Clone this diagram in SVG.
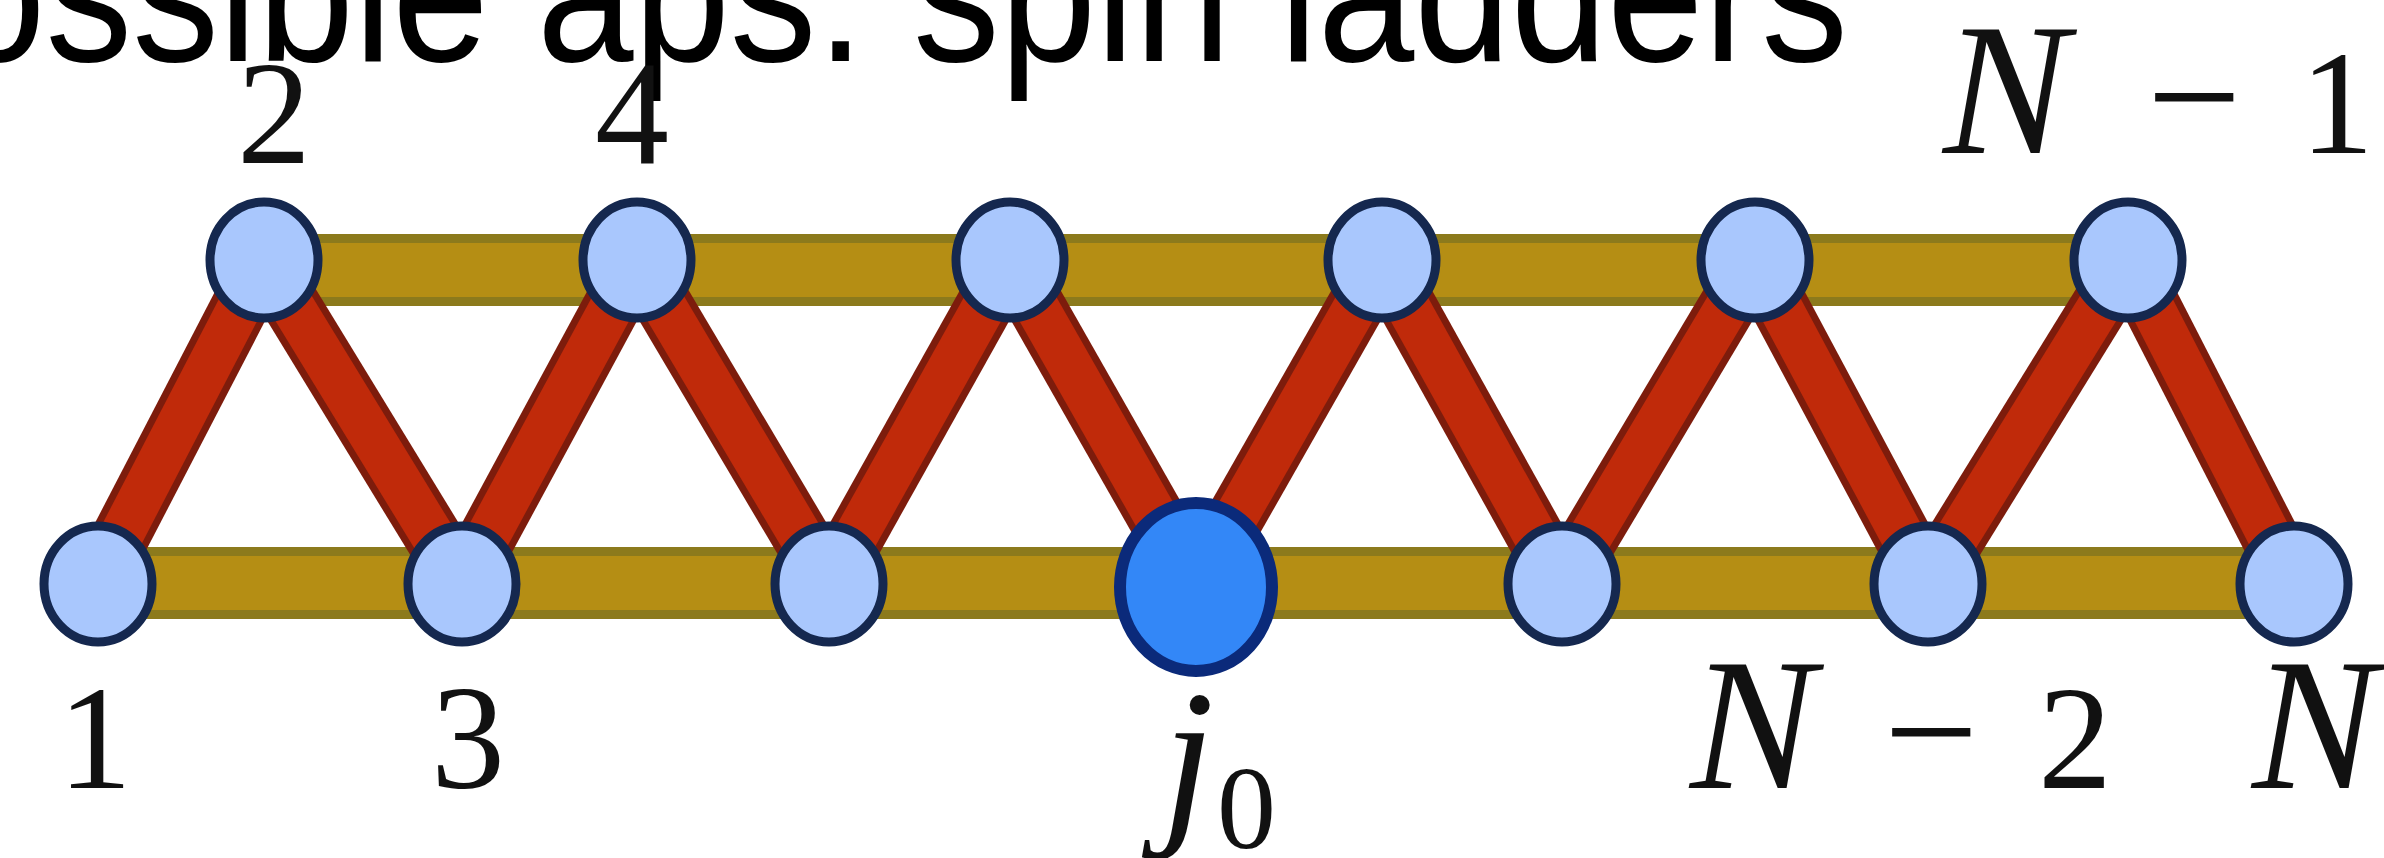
<svg xmlns="http://www.w3.org/2000/svg" width="2384" height="858" viewBox="0 0 2384 858">
  <style>
    .bar-o { stroke: #8c7a1c; stroke-width: 72; fill: none; }
    .bar-i { stroke: #b58e14; stroke-width: 54; fill: none; }
    .lnk-o { stroke: #7d1c0c; stroke-width: 58; stroke-linecap: butt; fill: none; }
    .lnk-i { stroke: #c02a0a; stroke-width: 44; stroke-linecap: butt; fill: none; }
    .node { fill: #a9c7fd; stroke: #15284f; stroke-width: 9; }
    .big { fill: #3387f7; stroke: #0b2a7a; stroke-width: 12; }
    .lbl { font-family: "Liberation Serif", "DejaVu Serif", serif; font-size: 148px; fill: #111; }
    .it { font-style: italic; font-size: 188px; }
    .mn { font-size: 168px; }
    .title { font-family: "Liberation Sans", Arial, sans-serif; font-size: 195px; fill: #000; }
  </style>
  <rect x="0" y="0" width="2384" height="858" fill="#ffffff"/>

  <text class="title" x="-51" y="61" textLength="1899" lengthAdjust="spacingAndGlyphs">ossible aps: spin ladders</text>

  <g id="connectors">
    <line class="bar-o" x1="264" y1="270" x2="2128" y2="270"/>
    <line class="bar-i" x1="264" y1="270" x2="2128" y2="270"/>
    <line class="bar-o" x1="96" y1="583" x2="2294" y2="583"/>
    <line class="bar-i" x1="96" y1="583" x2="2294" y2="583"/>
    <g id="rungs-outer">
      <polyline class="lnk-o" points="96,584 264,260"/>
      <polyline class="lnk-o" points="264,260 462,584"/>
      <polyline class="lnk-o" points="462,584 637,260"/>
      <polyline class="lnk-o" points="637,260 829,584"/>
      <polyline class="lnk-o" points="829,584 1010,260"/>
      <polyline class="lnk-o" points="1010,260 1196,587"/>
      <polyline class="lnk-o" points="1196,587 1382,260"/>
      <polyline class="lnk-o" points="1382,260 1562,584"/>
      <polyline class="lnk-o" points="1562,584 1755,260"/>
      <polyline class="lnk-o" points="1755,260 1928,584"/>
      <polyline class="lnk-o" points="1928,584 2128,260"/>
      <polyline class="lnk-o" points="2128,260 2294,584"/>
    </g>
    <g id="rungs-inner">
      <polyline class="lnk-i" points="96,584 264,260"/>
      <polyline class="lnk-i" points="264,260 462,584"/>
      <polyline class="lnk-i" points="462,584 637,260"/>
      <polyline class="lnk-i" points="637,260 829,584"/>
      <polyline class="lnk-i" points="829,584 1010,260"/>
      <polyline class="lnk-i" points="1010,260 1196,587"/>
      <polyline class="lnk-i" points="1196,587 1382,260"/>
      <polyline class="lnk-i" points="1382,260 1562,584"/>
      <polyline class="lnk-i" points="1562,584 1755,260"/>
      <polyline class="lnk-i" points="1755,260 1928,584"/>
      <polyline class="lnk-i" points="1928,584 2128,260"/>
      <polyline class="lnk-i" points="2128,260 2294,584"/>
    </g>
  </g>

  <g id="node-1">
    <ellipse class="node" cx="98" cy="584" rx="54" ry="58"/>
    <text class="lbl" x="58" y="788">1</text>
  </g>
  <g id="node-2">
    <ellipse class="node" cx="264" cy="260" rx="54" ry="58"/>
    <text class="lbl" x="237" y="163">2</text>
  </g>
  <g id="node-3">
    <ellipse class="node" cx="462" cy="584" rx="54" ry="58"/>
    <text class="lbl" x="431" y="788">3</text>
  </g>
  <g id="node-4">
    <ellipse class="node" cx="637" cy="260" rx="54" ry="58"/>
    <text class="lbl" x="595" y="163">4</text>
  </g>
  <g id="node-5">
    <ellipse class="node" cx="829" cy="584" rx="54" ry="58"/>
  </g>
  <g id="node-6">
    <ellipse class="node" cx="1010" cy="260" rx="54" ry="58"/>
  </g>
  <g id="node-j0">
    <ellipse class="big" cx="1196" cy="587" rx="76" ry="84"/>
    <text class="lbl" y="820"><tspan class="it" font-size="168" x="1162">j</tspan><tspan x="1217" y="848" font-size="118">0</tspan></text>
  </g>
  <g id="node-8">
    <ellipse class="node" cx="1382" cy="260" rx="54" ry="58"/>
  </g>
  <g id="node-9">
    <ellipse class="node" cx="1562" cy="584" rx="54" ry="58"/>
  </g>
  <g id="node-10">
    <ellipse class="node" cx="1755" cy="260" rx="54" ry="58"/>
  </g>
  <g id="node-N-2">
    <ellipse class="node" cx="1928" cy="584" rx="54" ry="58"/>
    <text class="lbl" y="788"><tspan class="it" x="1690">N</tspan><tspan class="mn" x="1884">−</tspan><tspan x="2038">2</tspan></text>
  </g>
  <g id="node-N-1">
    <ellipse class="node" cx="2128" cy="260" rx="54" ry="58"/>
    <text class="lbl" y="153"><tspan class="it" x="1943">N</tspan><tspan class="mn" x="2147">−</tspan><tspan x="2300">1</tspan></text>
  </g>
  <g id="node-N">
    <ellipse class="node" cx="2294" cy="584" rx="54" ry="58"/>
    <text class="lbl it" x="2252" y="788">N</text>
  </g>
</svg>
